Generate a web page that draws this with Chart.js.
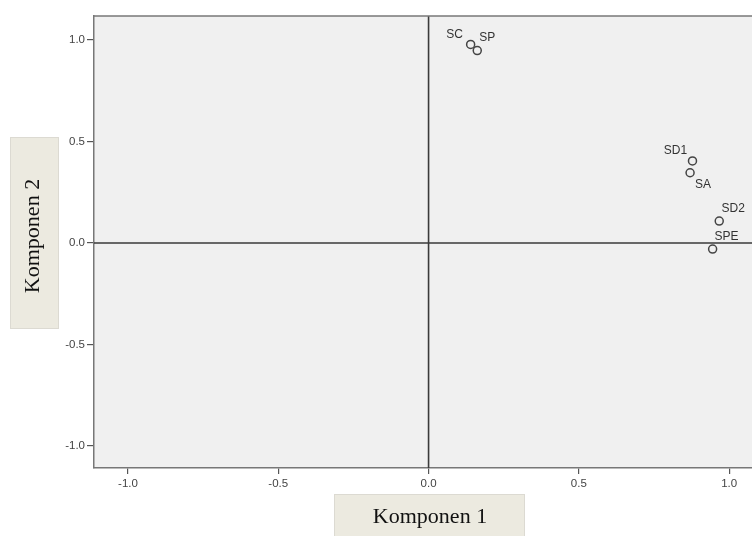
<!DOCTYPE html>
<html><head><meta charset="utf-8">
<script src="https://cdn.jsdelivr.net/npm/chart.js@4/dist/chart.umd.min.js"></script>
<style>html,body{margin:0;padding:0;background:#fff}canvas{display:block}</style>
</head><body>
<div style="width:752px;height:536px"><canvas id="c" width="752" height="536"></canvas></div>
<script>
// ---- data ----
const variables = ['SC', 'SP', 'SD1', 'SA', 'SD2', 'SPE'];
const komponen1 = [0.140, 0.162, 0.878, 0.870, 0.967, 0.945];
const komponen2 = [0.978, 0.948, 0.404, 0.346, 0.108, -0.030];
const xTickValues = [-1.0, -0.5, 0.0, 0.5, 1.0];
const yTickValues = [-1.0, -0.5, 0.0, 0.5, 1.0];
const xTitle = 'Komponen 1';
const yTitle = 'Komponen 2';

// ---- label placement (style only) ----
const labelOffsets = {
  SC: [-16, -10], SP: [10, -13], SD1: [-17, -10],
  SA: [13, 12], SD2: [14, -12], SPE: [14, -12]
};

const points = variables.map((v, i) => ({ x: komponen1[i], y: komponen2[i], name: v }));

const decor = {
  id: 'decor',
  beforeDraw(chart) {
    const { ctx, chartArea: a } = chart;
    ctx.save();
    ctx.fillStyle = '#f0f0f0';
    ctx.fillRect(a.left, a.top, a.right - a.left, a.bottom - a.top);
    // title boxes
    ctx.fillStyle = '#eceae0';
    ctx.strokeStyle = '#dcdad2';
    ctx.lineWidth = 1;
    ctx.fillRect(334, 494, 190, 46);
    ctx.strokeRect(334.5, 494.5, 190, 46);
    ctx.fillRect(10, 137, 48, 191);
    ctx.strokeRect(10.5, 137.5, 48, 191);
    ctx.fillStyle = '#111';
    ctx.font = '22px "Liberation Serif", "DejaVu Serif", serif';
    ctx.textAlign = 'center';
    ctx.textBaseline = 'middle';
    ctx.fillText(xTitle, 430, 517);
    ctx.translate(33, 236);
    ctx.rotate(-Math.PI / 2);
    ctx.fillText(yTitle, 0, 0);
    ctx.restore();
  },
  beforeDatasetsDraw(chart) {
    const { ctx, chartArea: a, scales: { x, y } } = chart;
    ctx.save();
    ctx.strokeStyle = '#3a3a3a';
    ctx.lineWidth = 1.6;
    const x0 = x.getPixelForValue(0), y0 = y.getPixelForValue(0);
    ctx.beginPath();
    ctx.moveTo(x0, a.top); ctx.lineTo(x0, a.bottom);
    ctx.moveTo(a.left, y0); ctx.lineTo(a.right, y0);
    ctx.stroke();
    // top frame
    ctx.strokeStyle = '#777';
    ctx.lineWidth = 1.5;
    ctx.beginPath();
    ctx.moveTo(a.left, a.top); ctx.lineTo(a.right, a.top);
    ctx.stroke();
    ctx.restore();
  },
  afterDatasetsDraw(chart) {
    const { ctx } = chart;
    const meta = chart.getDatasetMeta(0);
    ctx.save();
    ctx.fillStyle = '#333';
    ctx.font = '12px "Liberation Sans", Arial, sans-serif';
    ctx.textAlign = 'center';
    ctx.textBaseline = 'middle';
    meta.data.forEach((el, i) => {
      const name = variables[i];
      const off = labelOffsets[name] || [0, -10];
      ctx.fillText(name, el.x + off[0], el.y + off[1]);
    });
    ctx.restore();
  }
};

const tickFont = { family: '"Liberation Sans", Arial, sans-serif', size: 11.5 };

new Chart(document.getElementById('c'), {
  type: 'scatter',
  data: {
    datasets: [{
      data: points,
      pointStyle: 'circle',
      pointRadius: 4,
      pointHoverRadius: 4,
      borderColor: '#444',
      borderWidth: 1.5,
      backgroundColor: 'rgba(0,0,0,0)'
    }]
  },
  options: {
    responsive: false,
    animation: false,
    events: [],
    layout: { autoPadding: false, padding: { top: 16, right: 0, left: 0, bottom: 0 } },
    plugins: { legend: { display: false }, tooltip: { enabled: false } },
    scales: {
      x: {
        type: 'linear',
        min: -1.113, max: 1.076,
        afterBuildTicks(s) { s.ticks = xTickValues.map(v => ({ value: v })); },
        afterFit(s) { s.height = 68; s.paddingRight = 0; s.paddingLeft = 0; },
        ticks: { callback: v => Number(v).toFixed(1), color: '#444', font: tickFont, padding: 3, maxRotation: 0 },
        grid: { display: true, drawOnChartArea: false, drawTicks: true, tickLength: 6, color: '#555', lineWidth: 1.2 },
        border: { display: true, color: '#777', width: 1.5 },
        title: { display: false }
      },
      y: {
        type: 'linear',
        min: -1.108, max: 1.118,
        afterBuildTicks(s) { s.ticks = yTickValues.map(v => ({ value: v })); },
        afterFit(s) { s.width = 94; s.paddingTop = 0; s.paddingBottom = 0; },
        ticks: { callback: v => Number(v).toFixed(1), color: '#444', font: tickFont, padding: 2 },
        grid: { display: true, drawOnChartArea: false, drawTicks: true, tickLength: 7, color: '#555', lineWidth: 1.2 },
        border: { display: true, color: '#777', width: 1.5 },
        title: { display: false }
      }
    }
  },
  plugins: [decor]
});
</script>
</body></html>
